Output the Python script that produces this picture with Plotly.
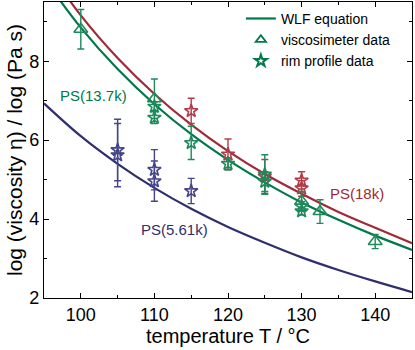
import plotly.graph_objects as go

# WLF curves (temperature in °C, log viscosity)
temp_grid = [95, 100, 105, 110, 115, 120, 125, 130, 135, 140, 145]
wlf_13k7 = [10.10, 8.85, 7.80, 6.91, 6.15, 5.50, 4.93, 4.42, 3.98, 3.58, 3.22]
wlf_18k = [10.47, 9.16, 8.08, 7.17, 6.39, 5.72, 5.14, 4.64, 4.18, 3.78, 3.39]
wlf_5k61 = [6.93, 6.10, 5.40, 4.79, 4.26, 3.80, 3.40, 3.03, 2.71, 2.42, 2.15]

# viscosimeter data (PS 13.7k)
visc_t = [100, 110, 130, 132.5, 140]
visc_eta = [8.81, 7.05, 4.45, 4.19, 3.43]
visc_err = [0.50, 0.50, 0.25, 0.30, 0.18]

# rim profile data
rim13_t = [110, 110, 115, 120, 125, 125, 130, 130]
rim13_eta = [6.85, 6.57, 5.93, 5.40, 5.13, 4.95, 4.32, 4.20]
rim13_err = [0.12, 0.15, 0.42, 0.15, 0.50, 0.25, 0.12, 0.10]

rim18_t = [115, 120, 125, 130, 130]
rim18_eta = [6.74, 5.64, 5.08, 4.98, 4.78]
rim18_err = [0.32, 0.39, 0.43, 0.22, 0.20]

rim5_t = [105, 105, 110, 110, 115]
rim5_eta = [5.75, 5.62, 5.25, 4.96, 4.71]
rim5_err = [0.78, 0.80, 0.51, 0.51, 0.32]

GREEN = "#00794a"
RED = "#a02a36"
BLUE = "#2f2f6e"
GREEN_M = "#1f8a5c"
RED_M = "#b23c48"
BLUE_M = "#45458a"

FONT = "Liberation Sans, Arial, sans-serif"

fig = go.Figure()

# curves
for vals, col in [(wlf_13k7, GREEN), (wlf_18k, RED), (wlf_5k61, BLUE)]:
    fig.add_trace(go.Scatter(
        x=temp_grid, y=vals, mode="lines",
        line=dict(color=col, width=2.2, shape="spline"),
        showlegend=False,
    ))

# data points
def add_points(t, eta, err, col, symbol, size):
    fig.add_trace(go.Scatter(
        x=t, y=eta, mode="markers",
        marker=dict(symbol=symbol, size=size, color=col, line=dict(color=col, width=1.6)),
        error_y=dict(type="data", array=err, color=col, thickness=1.4, width=3.5),
        showlegend=False,
    ))

add_points(rim5_t, rim5_eta, rim5_err, BLUE_M, "star-open", 10)
add_points(rim18_t, rim18_eta, rim18_err, RED_M, "star-open", 10)
add_points(rim13_t, rim13_eta, rim13_err, GREEN_M, "star-open", 10)
add_points(visc_t, visc_eta, visc_err, GREEN_M, "triangle-up-open", 12)

# legend entries only
fig.add_trace(go.Scatter(x=[None], y=[None], mode="lines",
                         line=dict(color=GREEN, width=2.2), name="WLF equation"))
fig.add_trace(go.Scatter(x=[None], y=[None], mode="markers", name="viscosimeter data",
                         marker=dict(symbol="triangle-up-open", size=9, color=GREEN,
                                     line=dict(color=GREEN, width=1.8))))
fig.add_trace(go.Scatter(x=[None], y=[None], mode="markers", name="rim profile data",
                         marker=dict(symbol="star-open", size=9, color=GREEN,
                                     line=dict(color=GREEN, width=2))))

# curve labels
labels = [("PS(13.7k)", 101.7, 7.12, GREEN), ("PS(18k)", 137.5, 4.64, RED),
          ("PS(5.61k)", 112.7, 3.73, BLUE)]
for txt, lx, ly, col in labels:
    fig.add_annotation(x=lx, y=ly, text=txt, showarrow=False,
                       font=dict(family=FONT, size=15, color=col))

axis_common = dict(
    showline=True, linecolor="black", linewidth=1.3, mirror="ticks",
    ticks="inside", ticklen=5, tickwidth=1.2, tickcolor="black",
    showgrid=False, zeroline=False, automargin=False,
    tickfont=dict(family=FONT, size=18, color="black"),
)

fig.update_xaxes(
    range=[95, 145], tick0=100, dtick=10,
    minor=dict(dtick=5, ticks="inside", ticklen=3, tickcolor="black", showgrid=False),
    title=dict(text="temperature T / °C", font=dict(family=FONT, size=20, color="black"),
               standoff=0),
    **axis_common,
)
fig.update_yaxes(
    range=[2, 9.5], tick0=2, dtick=2,
    minor=dict(dtick=1, ticks="inside", ticklen=3, tickcolor="black", showgrid=False),
    title=dict(text="log (viscosity η) / log (Pa s)",
               font=dict(family=FONT, size=21, color="black"), standoff=0),
    **axis_common,
)

fig.update_layout(
    width=415, height=350,
    margin=dict(l=44, r=3, t=2, b=52),
    plot_bgcolor="white", paper_bgcolor="white",
    legend=dict(x=0.535, y=0.997, xanchor="left", yanchor="top",
                bgcolor="rgba(0,0,0,0)", font=dict(family=FONT, size=14, color="black"),
                itemwidth=30, tracegroupgap=0),
)

# page body has a default margin; remove it so the figure sits at the corner
fig.write_html("out.html", config={"displayModeBar": False},
               post_script="document.body.style.margin = '0';")
